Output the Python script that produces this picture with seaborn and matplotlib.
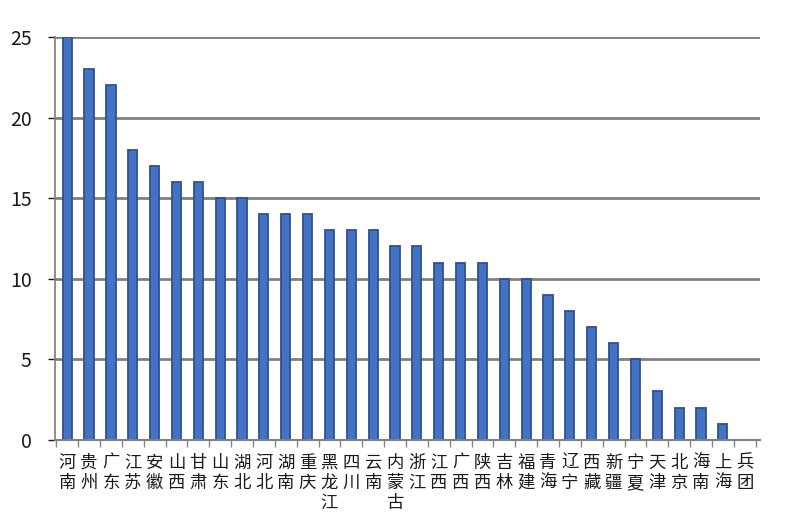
import numpy as np
import pandas as pd
import matplotlib
matplotlib.use("Agg")
import matplotlib.pyplot as plt
import seaborn as sns

provinces = ["河南", "贵州", "广东", "江苏", "安徽", "山西", "甘肃", "山东",
             "湖北", "河北", "湖南", "重庆", "黑龙江", "四川", "云南", "内蒙古",
             "浙江", "江西", "广西", "陕西", "吉林", "福建", "青海", "辽宁",
             "西藏", "新疆", "宁夏", "天津", "北京", "海南", "上海", "兵团"]
counts = [25, 23, 22, 18, 17, 16, 16, 15, 15, 14, 14, 14, 13, 13, 13, 12,
          12, 11, 11, 11, 10, 10, 9, 8, 7, 6, 5, 3, 2, 2, 1, 0]
y_ticks = [0, 5, 10, 15, 20, 25]

df = pd.DataFrame({"province": provinces, "count": counts})

sns.set_theme(style="white")
plt.rcParams["font.family"] = ["Noto Sans CJK SC", "DejaVu Sans"]

fig = plt.figure(figsize=(8, 5.28), dpi=100)
ax = fig.add_axes([0.069, 0.167, 0.881, 0.763])

# gridlines behind the bars
for v in y_ticks:
    ax.axhline(v, color="#808080", lw=2, zorder=0)

sns.barplot(data=df, x="province", y="count", color="#4472c4", width=0.42,
            edgecolor="#2f528f", linewidth=1.3, saturation=1, ax=ax, zorder=2)

ax.set_ylim(0, 25)
ax.set_xlim(-0.55, len(provinces) - 0.3)
ax.set_yticks(y_ticks)
ax.set_xticks(range(len(provinces)))
ax.set_xticklabels(["\n".join(p) for p in provinces], fontsize=12.5,
                   color="#1a1a1a", linespacing=1.15, va="top")
ax.tick_params(axis="x", length=0, pad=10)
ax.tick_params(axis="y", labelsize=14, colors="#1a1a1a", length=5,
               direction="out", left=True, width=1, pad=12)
ax.set_xticks(np.arange(-0.5, len(provinces), 1), minor=True)
ax.tick_params(axis="x", which="minor", length=5, bottom=True, color="#888888")
ax.set_xlabel("")
ax.set_ylabel("")

for side in ["top", "right"]:
    ax.spines[side].set_visible(False)
ax.spines["left"].set_color("#808080")
ax.spines["bottom"].set_color("#808080")
ax.spines["bottom"].set_linewidth(1.5)

fig.savefig("out.png", dpi=100, facecolor="white")
